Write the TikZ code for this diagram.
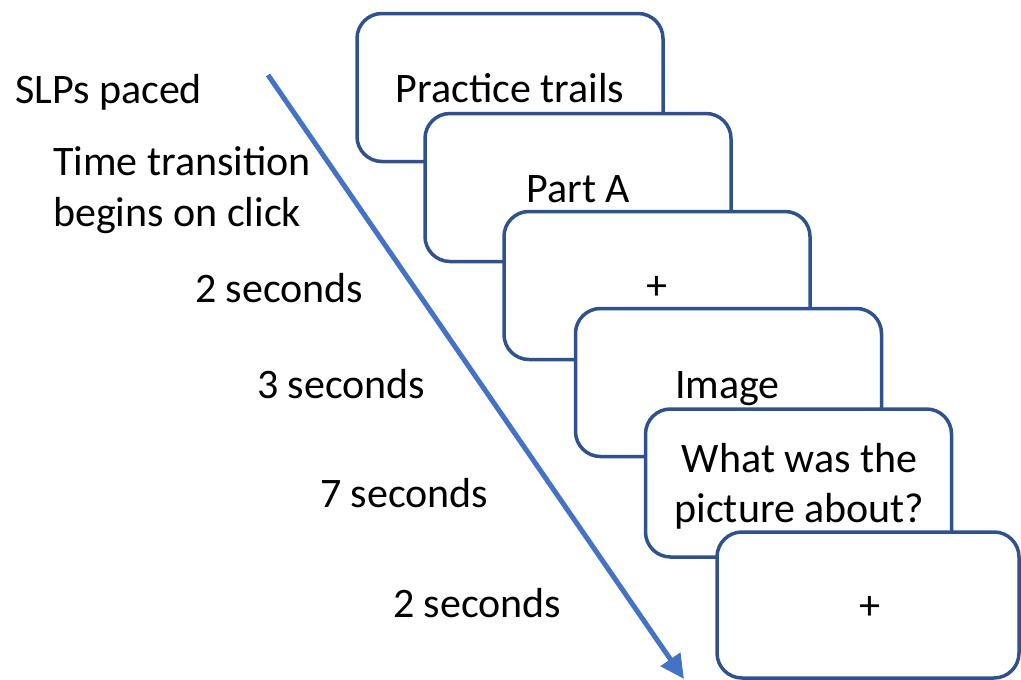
\documentclass[tikz,border=0pt]{standalone}
\usepackage{fontspec}
\setmainfont{Carlito}
\usetikzlibrary{arrows.meta}
\definecolor{boxline}{HTML}{2F528F}
\definecolor{flow}{HTML}{4472C4}
\begin{document}
\begin{tikzpicture}[x=1pt,y=-1pt,
  slide/.style={draw=boxline, line width=3.5pt, fill=white, rounded corners=25pt,
    minimum width=306pt, minimum height=148pt, inner sep=0pt, outer sep=0pt},
  txt/.style={font=\fontsize{42}{50}\selectfont, inner sep=0pt, outer sep=0pt, anchor=base},
  sym/.style={font=\fontsize{42}{50}\selectfont, inner sep=0pt, anchor=center},
  side/.style={font=\fontsize{42}{51}\selectfont, inner sep=0pt, anchor=base west, align=left},
  timeline/.style={draw=flow, line width=5pt, -{Triangle[length=24pt,width=23pt]}}]
\useasboundingbox (0,0) rectangle (1021,680);

% timeline arrow
\coordinate (start) at (268,75);
\coordinate (finish) at (684,679);
\draw[timeline] (start) -- (finish);

% labels on the left (multi-line nodes sit on their last baseline)
\node[side] (pace)  at (15,103)  {SLPs paced};
\node[side] (click) at (53,226)  {Time transition\\begins on click};
\node[side] (d1)    at (195,302) {2 seconds};
\node[side] (d2)    at (257,398) {3 seconds};
\node[side] (d3)    at (320,507) {7 seconds};
\node[side] (d4)    at (393,617) {2 seconds};

% stacked slides
\node[slide] (b1) at (510,87.5) {};
\node[txt] (t1) at (510,102) {Practice trails};
\node[slide] (b2) at (578,187.5) {};
\node[txt] (t2) at (578.5,202) {Part A};
\node[slide] (b3) at (657,285.5) {};
\node[sym] (t3) at (657,288) {+};
\node[slide] (b4) at (728.5,382.5) {};
\node[txt] (t4) at (727.5,398) {Image};
\node[slide] (b5) at (798.5,483) {};
\node[txt, align=center] (t5) at (799.5,522) {What was the\\picture about?};
\node[slide, minimum width=302pt, minimum height=146pt] (b6) at (868,605) {};
\node[sym] (t6) at (870,608) {+};
\end{tikzpicture}
\end{document}
